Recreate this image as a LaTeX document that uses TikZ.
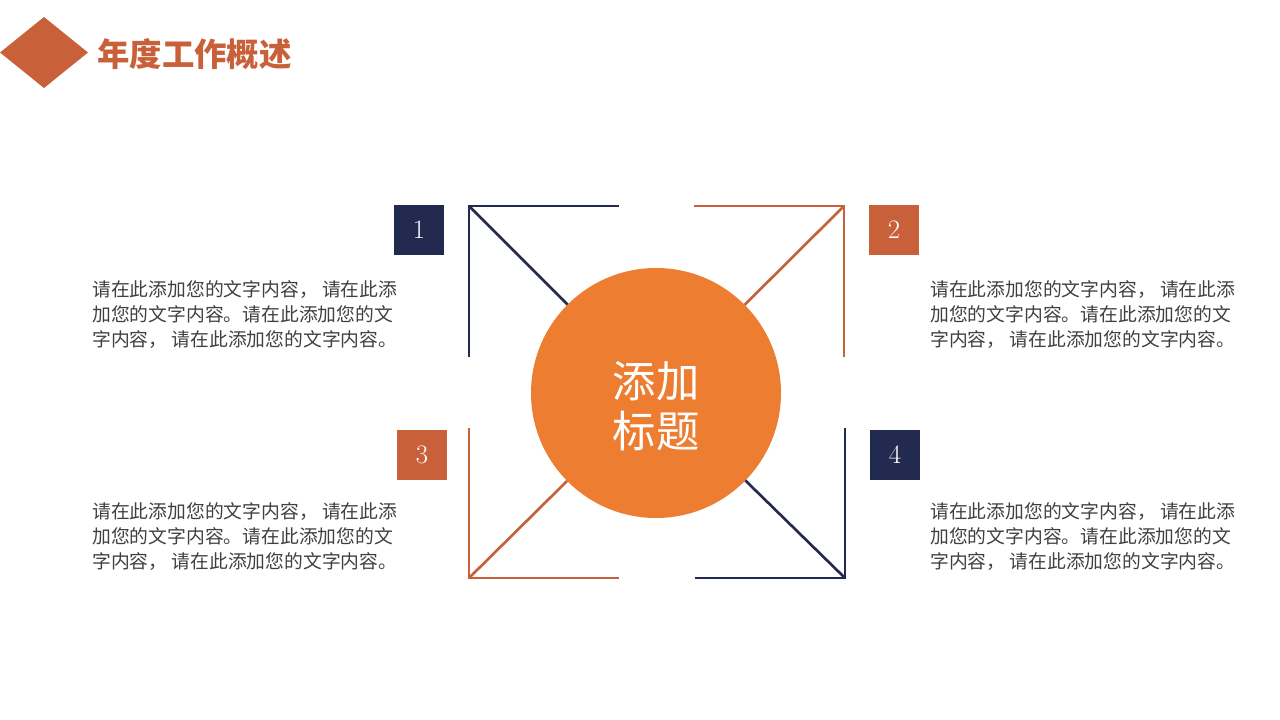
\documentclass[tikz,border=0pt]{standalone}
\usepackage{fontspec}
\usepackage{xcolor}
\usetikzlibrary{shapes.geometric, arrows}
\newfontfamily\cjk{Noto Sans CJK SC}

\definecolor{navy}{HTML}{232A4F}
\definecolor{rust}{HTML}{C8613A}
\definecolor{hubfill}{HTML}{ED7D31}
\definecolor{bodygray}{HTML}{404040}

\begin{document}
\begin{tikzpicture}[x=0.75pt, y=-0.75pt, font=\cjk]
	\tikzstyle{numbox} = [rectangle, minimum size=37.5pt, inner sep=0pt, outer sep=0pt, text=white, font=\rmfamily\fontsize{20}{24}\selectfont]
	
	\tikzstyle{bodytext} = [anchor=west, align=left, inner sep=0pt, text=bodygray, font=\cjk\fontsize{14.1}{18.75}\selectfont]
	
	\tikzstyle{frame} = [line width=2pt]
	
	\useasboundingbox (0,0) rectangle (1280,720);
	
	% Header
	\node (mark) [diamond, fill=rust, minimum width=66pt, minimum height=53.25pt, inner sep=0pt, outer sep=0pt] at (44,52.5) {};
	\node (title) [anchor=west, inner sep=0pt, text=rust, font=\cjk\bfseries\fontsize{24.3}{29}\selectfont] at (97,54) {年度工作概述};
	
	% Centre circle
	\node (hub) [circle, fill=hubfill, minimum size=187.5pt, inner sep=0pt, outer sep=0pt] at (656,393) {};
	\node (hublabel) [text=white, align=center, inner sep=0pt, font=\cjk\fontsize{32.5}{37.5}\selectfont] at (656,406) {添加\\标题};
	
	% Corner brackets
	\coordinate (c1) at (469,206);
	\coordinate (c2) at (844,206);
	\coordinate (c3) at (469,578);
	\coordinate (c4) at (845,578);
	\draw [frame, navy] (619,206) -- (c1) -- (469,357);
	\draw [frame, rust] (694,206) -- (c2) -- (844,357);
	\draw [frame, rust] (469,428) -- (c3) -- (619,578);
	\draw [frame, navy] (845,428) -- (c4) -- (695,578);
	\draw [frame, navy] (c1) -- (hub);
	\draw [frame, rust] (c2) -- (hub);
	\draw [frame, rust] (c3) -- (hub);
	\draw [frame, navy] (c4) -- (hub);
	
	% Number boxes
	\node (n1) [numbox, fill=navy] at (419,230) {1};
	\node (n2) [numbox, fill=rust] at (894,230) {2};
	\node (n3) [numbox, fill=rust] at (422,455) {3};
	\node (n4) [numbox, fill=navy] at (895,455) {4};
	
	% Text blocks
	\node (t1) [bodytext] at (92,315) {请在此添加您的文字内容， 请在此添\\加您的文字内容。请在此添加您的文\\字内容， 请在此添加您的文字内容。};
	\node (t2) [bodytext] at (930,315) {请在此添加您的文字内容， 请在此添\\加您的文字内容。请在此添加您的文\\字内容， 请在此添加您的文字内容。};
	\node (t3) [bodytext] at (92,537) {请在此添加您的文字内容， 请在此添\\加您的文字内容。请在此添加您的文\\字内容， 请在此添加您的文字内容。};
	\node (t4) [bodytext] at (930,537) {请在此添加您的文字内容， 请在此添\\加您的文字内容。请在此添加您的文\\字内容， 请在此添加您的文字内容。};
\end{tikzpicture}
\end{document}
